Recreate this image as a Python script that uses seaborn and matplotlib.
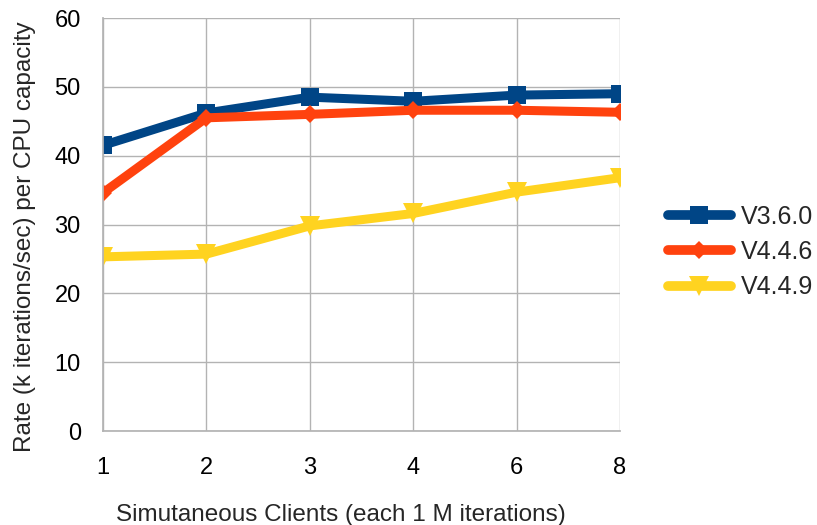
import matplotlib
matplotlib.use("Agg")
import matplotlib.pyplot as plt
import seaborn as sns
import pandas as pd

clients = ["1", "2", "3", "4", "6", "8"]
v360 = [41.5, 46.2, 48.5, 47.9, 48.8, 49.0]
v446 = [34.6, 45.5, 46.0, 46.6, 46.6, 46.3]
v449 = [25.3, 25.7, 29.8, 31.6, 34.7, 36.8]
series_names = ["V3.6.0", "V4.4.6", "V4.4.9"]
y_ticks = [0, 10, 20, 30, 40, 50, 60]

sns.set_theme(style="white")
plt.rcParams['font.family'] = ['Liberation Sans', 'DejaVu Sans']

rows = []
for name, vals in zip(series_names, [v360, v446, v449]):
    for c, v in zip(clients, vals):
        rows.append({"Clients": c, "Rate": v, "Version": name})
df = pd.DataFrame(rows)

colors = {"V3.6.0": "#004586", "V4.4.6": "#ff420e", "V4.4.9": "#ffd320"}
markers = {"V3.6.0": "s", "V4.4.6": "D", "V4.4.9": "v"}
msizes = {"V3.6.0": 13, "V4.4.6": 9, "V4.4.9": 14}

fig = plt.figure(figsize=(8.17, 5.25), dpi=100)
ax = fig.add_axes([103/817, 1 - 431/525, (620-103)/817, (431-18)/525])

for name in series_names:
    sub = df[df["Version"] == name]
    sns.lineplot(data=sub, x="Clients", y="Rate", ax=ax, color=colors[name],
                 marker=markers[name], markersize=msizes[name], linewidth=6.5,
                 markeredgewidth=0, label=name, sort=False)

ax.set_ylim(0, 60)
ax.set_yticks(y_ticks)
ax.set_xlim(-0.0, 5.0)
ax.grid(True, color="#b3b3b3", linewidth=1)
ax.set_axisbelow(True)
for s in ax.spines.values():
    s.set_visible(False)
ax.spines["left"].set_visible(True)
ax.spines["left"].set_color("#b3b3b3")
ax.spines["bottom"].set_visible(True)
ax.spines["bottom"].set_color("#b3b3b3")
ax.tick_params(axis="x", length=10, color="#b3b3b3", width=1, labelsize=17, pad=9,
               colors="#b3b3b3", labelcolor="black")
ax.tick_params(axis="y", length=12, color="#b3b3b3", width=1, labelsize=17, pad=4,
               colors="#b3b3b3", labelcolor="black")
ax.set_xlabel("Simutaneous Clients (each 1 M iterations)", fontsize=17.5, labelpad=17.5)
ax.set_ylabel("Rate (k iterations/sec) per CPU capacity", fontsize=17.5, labelpad=13)
ax.xaxis.label.set_x(0.46)
ax.yaxis.label.set_y(0.47)

leg = ax.legend(loc="center left", bbox_to_anchor=(668/817, 1 - 252/525), bbox_transform=fig.transFigure,
                frameon=False, fontsize=18, handlelength=2.5, handletextpad=0.4,
                labelspacing=0.45, borderpad=0, borderaxespad=0)
for h in leg.legend_handles:
    h.set_linewidth(7)

fig.savefig("out.png", dpi=100)
